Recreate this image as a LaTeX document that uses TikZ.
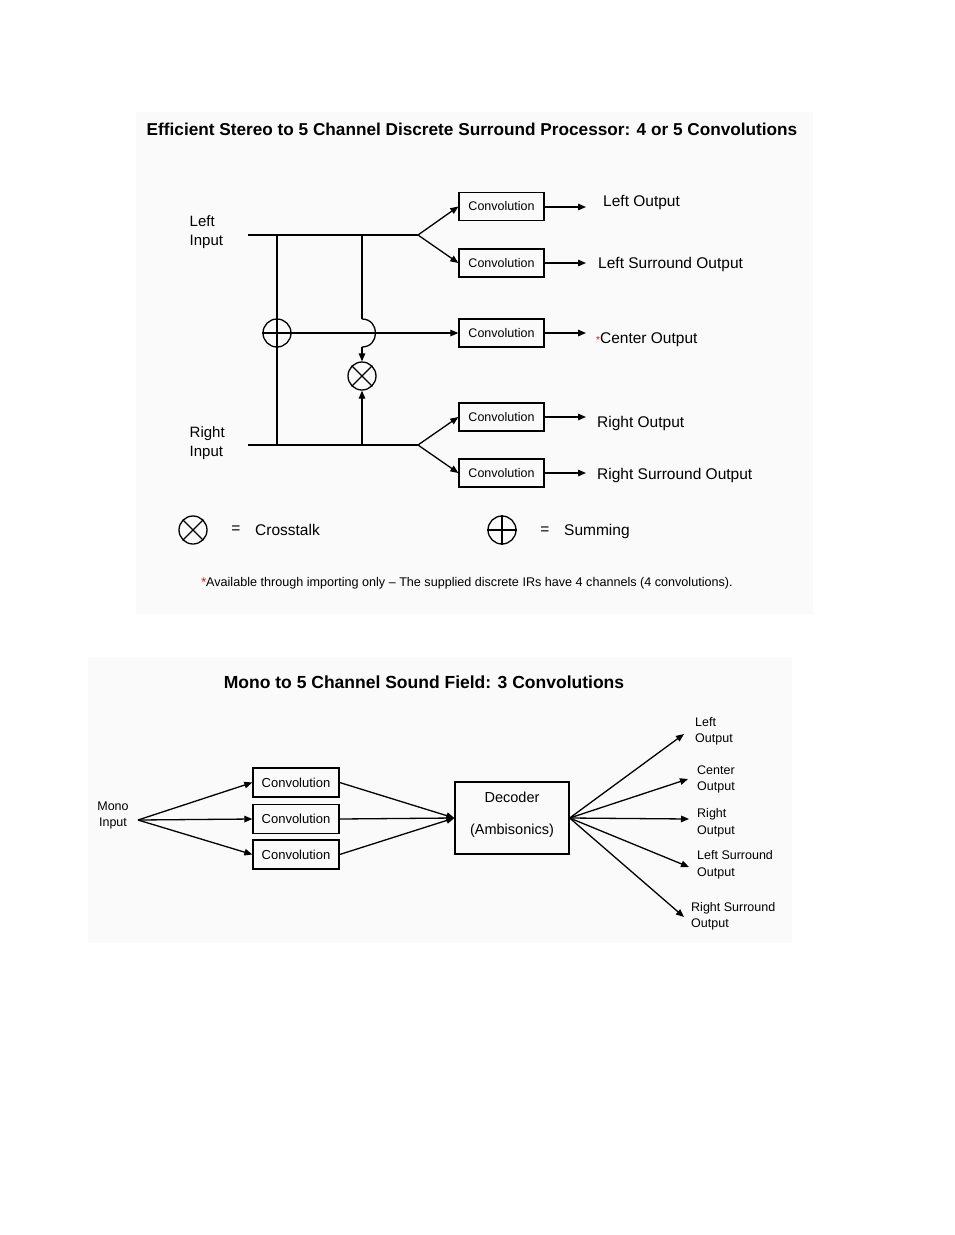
\documentclass[tikz,border=0pt]{standalone}
\usepackage{fontspec}
\setmainfont{Liberation Sans}
\usetikzlibrary{arrows.meta}
\begin{document}
\begin{tikzpicture}[x=1pt,y=-1pt,
  ln/.style={line width=1.3pt},
  arr/.style={ln,-{Triangle[length=8pt,width=6.5pt]}},
  conv/.style={draw,ln,minimum width=85pt,minimum height=28pt,inner sep=0pt,font=\fontsize{12.5}{14}\selectfont},
  lbl/.style={anchor=west,inner sep=0pt,font=\fontsize{15.5}{19}\selectfont},
  inlbl/.style={anchor=west,inner sep=0pt,align=left,font=\fontsize{15}{19}\selectfont},
  blbl/.style={anchor=west,inner sep=0pt,align=left,font=\fontsize{12.5}{16.5}\selectfont},
  opcircle/.style={circle,draw,ln,minimum size=28pt,inner sep=0pt},
  titlestyle/.style={inner sep=0pt,font=\fontsize{17.2}{20}\selectfont\bfseries},
  panel/.style={fill=black!2,draw=none}]
\useasboundingbox (0,0) rectangle (954,1235);
\fill[panel] (136,112) rectangle (813,614);
\fill[panel] (88,657) rectangle (792,943);

% ---------- top diagram ----------
\node[titlestyle] (t1) at (472,129) {Efficient Stereo to 5 Channel Discrete Surround Processor: 4 or 5 Convolutions};

\node[conv] (c1) at (501.5,206.5) {Convolution};
\node[conv] (c2) at (501.5,263) {Convolution};
\node[conv] (c3) at (501.5,333) {Convolution};
\node[conv] (c4) at (501.5,417) {Convolution};
\node[conv] (c5) at (501.5,473) {Convolution};

\coordinate (o1) at (586,207);
\coordinate (o2) at (586,263);
\coordinate (o3) at (586,333);
\coordinate (o4) at (586,417);
\coordinate (o5) at (586,473);
\foreach \i in {1,...,5} {\draw[arr] (c\i.east |- o\i) -- (o\i);}

\node[lbl] (l1) at (603,202) {Left Output};
\node[lbl] (l2) at (598,264.5) {Left Surround Output};
\node[lbl] (l3) at (596,339.5) {\textcolor{red}{\fontsize{10}{10}\selectfont*}Center Output};
\node[lbl] (l4) at (597,423.5) {Right Output};
\node[lbl] (l5) at (597,475.5) {Right Surround Output};

\node[inlbl] (li) at (189.5,232) {Left\\Input};
\node[inlbl] (ri) at (189.5,443) {Right\\Input};

\coordinate (lstart) at (248,235);
\coordinate (lsplit) at (418,235);
\coordinate (rstart) at (248,445);
\coordinate (rsplit) at (418,445);
\draw[ln] (lstart) -- (lsplit);
\draw[ln] (rstart) -- (rsplit);
\draw[arr] (lsplit) -- (c1.west);
\draw[arr] (lsplit) -- (c2.west);
\draw[arr] (rsplit) -- (c4.west);
\draw[arr] (rsplit) -- (c5.west);

% summing
\node[opcircle] (sum) at (277,333) {};
\draw[ln] (sum.north) -- (sum.south) (sum.west) -- (sum.east);
\coordinate (ls1) at (277,235);
\coordinate (rs1) at (277,445);
\draw[ln] (ls1) -- (sum.north);
\draw[ln] (sum.south) -- (rs1);
\draw[arr] (sum.east) -- (c3.west);

% crosstalk
\node[opcircle] (xt) at (362,376) {};
\draw[ln] (xt.north east) -- (xt.south west) (xt.north west) -- (xt.south east);
\coordinate (ls2) at (362,235);
\coordinate (rs2) at (362,445);
\coordinate (hopa) at (362,319);
\coordinate (hopb) at (362,347);
\draw[ln] (ls2) -- (hopa);
\draw[ln] (hopa) .. controls (380,319) and (380,347) .. (hopb);
\draw[arr] (hopb) -- (xt.north);
\draw[arr] (rs2) -- (xt.south);

% legend
\node[opcircle] (xtl) at (193,530) {};
\draw[ln] (xtl.north east) -- (xtl.south west) (xtl.north west) -- (xtl.south east);
\node[lbl,anchor=center] (eq1) at (236,530) {=};
\node[lbl] (ct) at (255,530) {Crosstalk};
\node[opcircle] (suml) at (502,530) {};
\draw[ln] (suml.north) -- (suml.south) (suml.west) -- (suml.east);
\node[lbl,anchor=center] (eq2) at (545,531) {=};
\node[lbl] (sm) at (564,531) {Summing};

\node[inner sep=0pt,font=\fontsize{12.6}{14}\selectfont] (fn) at (467,583) {\textcolor{red}{*}Available through importing only -- The supplied discrete IRs have 4 channels (4 convolutions).};

% ---------- bottom diagram ----------
\node[titlestyle,font=\fontsize{17.5}{20}\selectfont\bfseries] (t2) at (424,682) {Mono to 5 Channel Sound Field: 3 Convolutions};

\node[inner sep=0pt,align=center,font=\fontsize{12.5}{16.5}\selectfont] (mi) at (113,815.5) {Mono\\Input};
\coordinate (src) at (138,820);

\node[conv,minimum width=86pt,minimum height=29pt,font=\fontsize{13}{15}\selectfont] (b1) at (296,782.5) {Convolution};
\node[conv,minimum width=86pt,minimum height=29pt,font=\fontsize{13}{15}\selectfont] (b2) at (296,819) {Convolution};
\node[conv,minimum width=86pt,minimum height=29pt,font=\fontsize{13}{15}\selectfont] (b3) at (296,854.5) {Convolution};

\draw[arr] (src) -- (b1.west);
\draw[arr] (src) -- (b2.west);
\draw[arr] (src) -- (b3.west);

\node[draw,ln,minimum width=114pt,minimum height=72pt,inner sep=0pt] (dec) at (512,818) {};
\node[inner sep=0pt,font=\fontsize{14.5}{16}\selectfont] (dect) at (512,797) {Decoder};
\node[inner sep=0pt,font=\fontsize{14.5}{16}\selectfont] (deca) at (512,830.5) {(Ambisonics)};

\draw[arr] (b1.east) -- (dec.west);
\draw[arr] (b2.east) -- (dec.west);
\draw[arr] (b3.east) -- (dec.west);

\coordinate (e1) at (684,734);
\coordinate (e2) at (688,779);
\coordinate (e3) at (689,819);
\coordinate (e4) at (689,867);
\coordinate (e5) at (684,917);
\foreach \i in {1,...,5} {\draw[arr] (dec.east) -- (e\i);}

\node[blbl] (bo1) at (695,731.5) {Left\\Output};
\node[blbl] (bo2) at (697,779.5) {Center\\Output};
\node[blbl] (bo3) at (697,823) {Right\\Output};
\node[blbl] (bo4) at (697,865) {Left Surround\\Output};
\node[blbl] (bo5) at (691,916.5) {Right Surround\\Output};
\end{tikzpicture}
\end{document}
